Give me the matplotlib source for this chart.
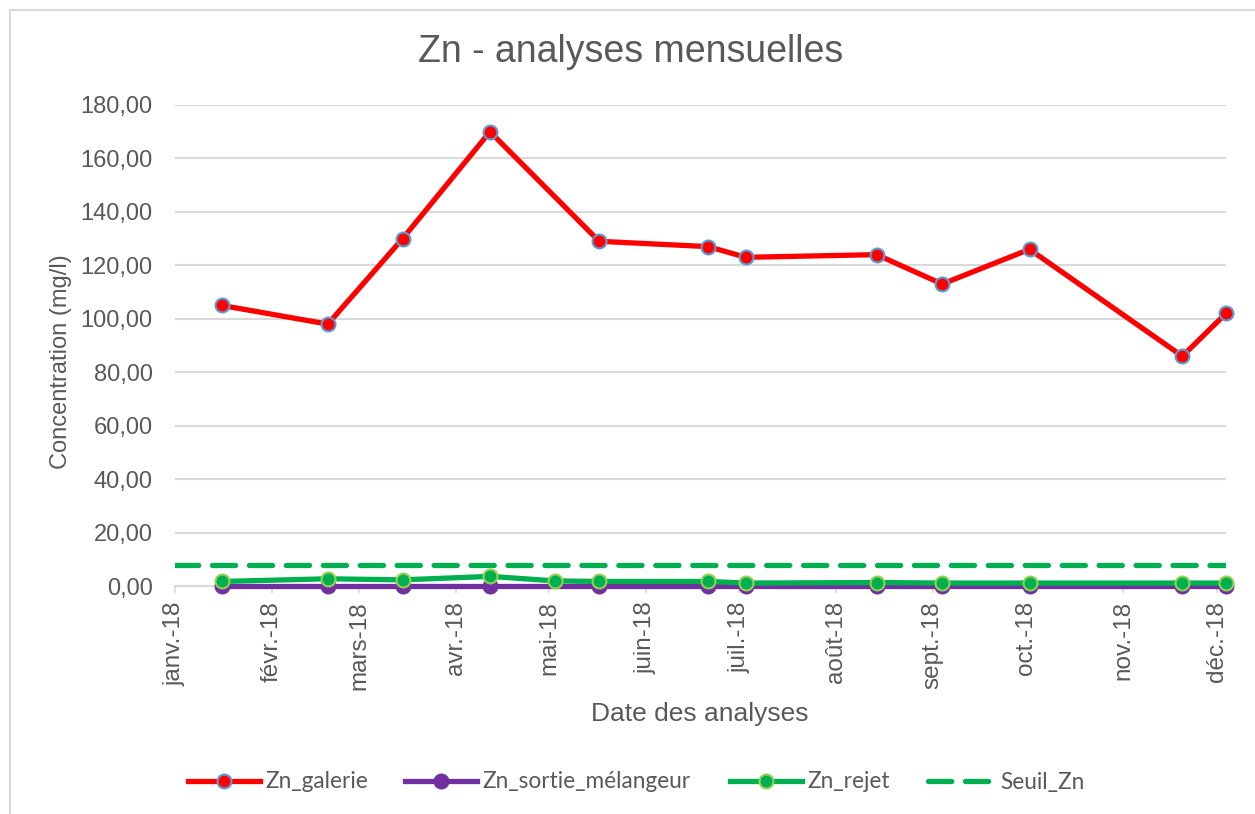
import matplotlib
matplotlib.use("Agg")
import matplotlib.pyplot as plt
from matplotlib.lines import Line2D
import datetime as dt

# ---- data ----
dates_main = ["2018-01-16", "2018-02-19", "2018-03-15", "2018-04-12", "2018-05-17",
              "2018-06-21", "2018-07-03", "2018-08-14", "2018-09-04", "2018-10-02",
              "2018-11-20", "2018-12-04"]
zn_galerie = [105, 98, 130, 170, 129, 127, 123, 124, 113, 126, 86, 102]
zn_sortie = [0.1, 0.1, 0.1, 0.1, 0.1, 0.1, 0.1, 0.1, 0.1, 0.1, 0.1, 0.1]
dates_rejet = ["2018-01-16", "2018-02-19", "2018-03-15", "2018-04-12", "2018-05-03",
               "2018-05-17", "2018-06-21", "2018-07-03", "2018-08-14", "2018-09-04",
               "2018-10-02", "2018-11-20", "2018-12-04"]
zn_rejet = [1.7, 2.7, 2.3, 3.6, 1.9, 1.7, 1.7, 1.1, 1.3, 1.1, 1.1, 1.1, 1.1]
seuil_zn = 8
month_labels = ["janv.-18", "févr.-18", "mars-18", "avr.-18", "mai-18", "juin-18",
                "juil.-18", "août-18", "sept.-18", "oct.-18", "nov.-18", "déc.-18"]
yticks = [0, 20, 40, 60, 80, 100, 120, 140, 160, 180]

TXT = "#595959"
GRID = "#D9D9D9"

W, H = 1255, 814
fig = plt.figure(figsize=(W / 100, H / 100), dpi=100)
fig.patch.set_facecolor("white")

# chart border (top and left visible)
fig.add_artist(Line2D([9.5 / W, 1.2], [1 - 9.5 / H, 1 - 9.5 / H], transform=fig.transFigure,
                      color=GRID, lw=1.5))
fig.add_artist(Line2D([9.5 / W, 9.5 / W], [-0.2, 1 - 9.5 / H], transform=fig.transFigure,
                      color=GRID, lw=1.5))

x0, x1, ytop, ybot = 175, 1226, 105, 586
ax = fig.add_axes([x0 / W, 1 - ybot / H, (x1 - x0) / W, (ybot - ytop) / H])

d_main = [dt.datetime.fromisoformat(d) for d in dates_main]
d_rejet = [dt.datetime.fromisoformat(d) for d in dates_rejet]

l1, = ax.plot(d_main, zn_galerie, color="#FF0000", lw=3.8, marker="o", markersize=10,
              markerfacecolor="#FF0000", markeredgecolor="#5B9BD5", markeredgewidth=1.5,
              solid_joinstyle="round", label="Zn_galerie", zorder=5, clip_on=False)
l2, = ax.plot(d_main, zn_sortie, color="#7030A0", lw=3.8, marker="o", markersize=10,
              markerfacecolor="#7030A0", markeredgecolor="#7030A0", markeredgewidth=1.5,
              label="Zn_sortie_mélangeur", zorder=3, clip_on=False)
l3, = ax.plot(d_rejet, zn_rejet, color="#00B050", lw=3.8, marker="o", markersize=10,
              markerfacecolor="#00B050", markeredgecolor="#92D050", markeredgewidth=1.5,
              label="Zn_rejet", zorder=4, clip_on=False)
l4 = ax.axhline(seuil_zn, color="#00B050", lw=3.8, linestyle=(0, (4.4, 2.6)),
                dash_capstyle="round", label="Seuil_Zn", zorder=2)

ax.set_xlim(dt.datetime(2018, 1, 1), dt.datetime(2018, 12, 4))
ax.set_ylim(0, 180)
ax.set_yticks(yticks)
ax.set_yticklabels([f"{v:.2f}".replace(".", ",") for v in yticks])
ax.set_xticks([dt.datetime(2018, m, 1) for m in range(1, 13)])
ax.set_xticklabels(month_labels, rotation=90)

ax.grid(axis="y", color=GRID, lw=1.5, zorder=0)
ax.set_axisbelow(True)
for s in ["top", "right", "left"]:
    ax.spines[s].set_visible(False)
ax.spines["bottom"].set_color(GRID)
ax.spines["bottom"].set_linewidth(1.5)
ax.tick_params(axis="y", length=0, pad=16, labelsize=17, labelcolor=TXT)
ax.tick_params(axis="x", length=5, width=1.2, color=GRID, pad=6, labelsize=17.5, labelcolor=TXT)
for lab in ax.get_xticklabels() + ax.get_yticklabels():
    lab.set_fontfamily("Liberation Sans")

ax.set_ylabel("Concentration (mg/l)", fontsize=17, color=TXT, fontfamily="Liberation Sans")
ax.yaxis.set_label_coords((72 - x0) / (x1 - x0), (ybot - 362) / (ybot - ytop))
fig.text(700 / W, 1 - 714 / H, "Date des analyses", ha="center", va="center",
         fontsize=19, color=TXT, fontfamily="Liberation Sans")
fig.text(631 / W, 1 - 52 / H, "Zn - analyses mensuelles", ha="center", va="center",
         fontsize=27, color=TXT, fontfamily="Liberation Sans")

# legend: one entry per legend box, placed like the reference
leg_x = [188, 405, 730, 928]
leg_hl = [3.2, 3.2, 3.2, 3.0]
for h, x, hl in zip([l1, l2, l3, l4], leg_x, leg_hl):
    lg = fig.legend(handles=[h], labels=[h.get_label()], loc="center left",
                    bbox_to_anchor=(x / W, 1 - 782 / H), frameon=False,
                    handlelength=hl, handletextpad=0.2, borderpad=0, borderaxespad=0,
                    prop={"family": "Lato", "size": 16.3})
    for t in lg.get_texts():
        t.set_color(TXT)

fig.savefig("out.png", dpi=100)
